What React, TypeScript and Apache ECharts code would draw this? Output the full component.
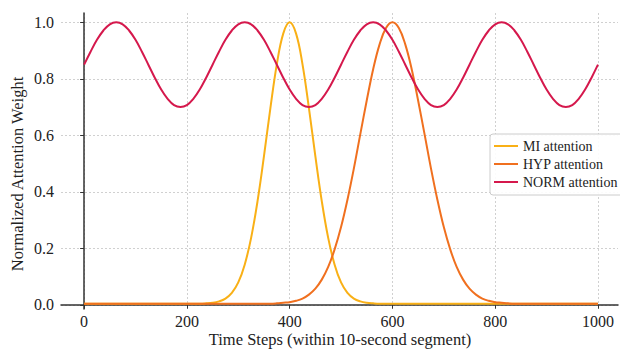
import React, { useEffect, useRef } from "react";
import * as echarts from "echarts";

// Sampling grid of the time axis (every 12.5 steps)
const timeSteps = [
  0, 12.5, 25, 37.5, 50, 62.5, 75, 87.5, 100, 112.5, 125, 137.5, 150, 162.5, 175, 187.5, 200, 212.5, 225, 237.5,
  250, 262.5, 275, 287.5, 300, 312.5, 325, 337.5, 350, 362.5, 375, 387.5, 400, 412.5, 425, 437.5, 450, 462.5, 475, 487.5,
  500, 512.5, 525, 537.5, 550, 562.5, 575, 587.5, 600, 612.5, 625, 637.5, 650, 662.5, 675, 687.5, 700, 712.5, 725, 737.5,
  750, 762.5, 775, 787.5, 800, 812.5, 825, 837.5, 850, 862.5, 875, 887.5, 900, 912.5, 925, 937.5, 950, 962.5, 975, 987.5,
  1000,
];

const miValues = [
  0.004, 0.004, 0.004, 0.004, 0.004, 0.004, 0.004, 0.004, 0.004, 0.004, 0.004, 0.004, 0.004, 0.004, 0.004, 0.004, 0.004, 0.004, 0.004,
  0.005, 0.007, 0.012, 0.022, 0.042, 0.079, 0.142, 0.237, 0.367, 0.526, 0.696, 0.851, 0.96,
  1.0,
  0.96, 0.851, 0.696, 0.526, 0.367, 0.237, 0.142, 0.079, 0.042, 0.022, 0.012, 0.007, 0.005,
  0.004, 0.004, 0.004, 0.004, 0.004, 0.004, 0.004, 0.004, 0.004, 0.004, 0.004, 0.004, 0.004, 0.004, 0.004, 0.004, 0.004, 0.004,
  0.004, 0.004, 0.004, 0.004, 0.004, 0.004, 0.004, 0.004, 0.004, 0.004, 0.004, 0.004, 0.004, 0.004, 0.004, 0.004, 0.004,
];

const hypValues = [
  0.004, 0.004, 0.004, 0.004, 0.004, 0.004, 0.004, 0.004, 0.004, 0.004, 0.004, 0.004, 0.004, 0.004, 0.004,
  0.004, 0.004, 0.004, 0.004, 0.004, 0.004, 0.004, 0.004, 0.004, 0.004, 0.004, 0.004, 0.004, 0.004, 0.004,
  0.005, 0.007, 0.009, 0.014, 0.022, 0.036, 0.057, 0.089, 0.134, 0.196, 0.275, 0.372, 0.483, 0.604, 0.723, 0.834, 0.922, 0.98,
  1.0,
  0.98, 0.922, 0.834, 0.723, 0.604, 0.483, 0.372, 0.275, 0.196, 0.134, 0.089, 0.057, 0.036, 0.022, 0.014, 0.009, 0.007, 0.005,
  0.004, 0.004, 0.004, 0.004, 0.004, 0.004, 0.004, 0.004, 0.004, 0.004, 0.004, 0.004, 0.004, 0.004,
];

const normValues = [
  0.85, 0.896, 0.938, 0.971, 0.993, 1.0, 0.993, 0.971, 0.938, 0.896, 0.85, 0.804, 0.762, 0.729, 0.707, 0.7, 0.707, 0.729, 0.762, 0.804,
  0.85, 0.896, 0.938, 0.971, 0.993, 1.0, 0.993, 0.971, 0.938, 0.896, 0.85, 0.804, 0.762, 0.729, 0.707, 0.7, 0.707, 0.729, 0.762, 0.804,
  0.85, 0.896, 0.938, 0.971, 0.993, 1.0, 0.993, 0.971, 0.938, 0.896, 0.85, 0.804, 0.762, 0.729, 0.707, 0.7, 0.707, 0.729, 0.762, 0.804,
  0.85, 0.896, 0.938, 0.971, 0.993, 1.0, 0.993, 0.971, 0.938, 0.896, 0.85, 0.804, 0.762, 0.729, 0.707, 0.7, 0.707, 0.729, 0.762, 0.804,
  0.85,
];

const seriesNames = ["MI attention", "HYP attention", "NORM attention"];
const seriesColors = ["#F9B016", "#F0701F", "#D5184C"];
const xTicks = [0, 200, 400, 600, 800, 1000];
const yTicks = [0, 0.2, 0.4, 0.6, 0.8, 1.0];
const xTickLabels = ["0", "200", "400", "600", "800", "1000"];
const yTickLabels = ["0.0", "0.2", "0.4", "0.6", "0.8", "1.0"];
const xTitle = "Time Steps (within 10-second segment)";
const yTitle = "Normalized Attention Weight";

const X_MIN = -45;
const X_MAX = 1039;
const Y_MIN = -0.015;
const Y_MAX = 1.033;

const FONT = "Liberation Serif";

export default function App() {
  const ref = useRef<HTMLDivElement>(null);
  useEffect(() => {
    if (!ref.current) return;
    const chart = echarts.init(ref.current, null, { renderer: "svg" });
    const allValues = [miValues, hypValues, normValues];
    const series = allValues.map((vals, k) => ({
      name: seriesNames[k],
      type: "line",
      data: timeSteps.map((t, i) => [t, vals[i]]),
      symbol: "none",
      smooth: 0.4,
      lineStyle: { color: seriesColors[k], width: 2 },
      itemStyle: { color: seriesColors[k] },
      z: 2 + k,
    }));
    chart.setOption({
      animation: false,
      backgroundColor: "#ffffff",
      textStyle: { fontFamily: FONT },
      grid: { left: 61, right: 2, top: 13, bottom: 40, containLabel: false },
      xAxis: {
        type: "value",
        min: X_MIN,
        max: X_MAX,
        axisLine: { show: true, lineStyle: { color: "#333", width: 1.5 } },
        axisTick: { show: true, inside: false, length: 4, customValues: xTicks, lineStyle: { color: "#333", width: 1 } },
        axisLabel: { show: false },
        splitLine: { show: true, customValues: xTicks, lineStyle: { color: "#c4c4c4", width: 0.8, type: [2, 2] } },
      },
      yAxis: {
        type: "value",
        min: Y_MIN,
        max: Y_MAX,
        axisLine: { show: true, lineStyle: { color: "#333", width: 1.5 } },
        axisTick: { show: true, inside: false, length: 4, customValues: yTicks, lineStyle: { color: "#333", width: 1 } },
        axisLabel: { show: false },
        splitLine: { show: true, customValues: yTicks, lineStyle: { color: "#c4c4c4", width: 0.8, type: [2, 2] } },
      },
      legend: {
        data: seriesNames.map((n) => ({ name: n, icon: "rect" })),
        orient: "vertical",
        left: 490,
        top: 134,
        padding: [5, 6, 6, 4],
        itemGap: 4,
        itemWidth: 24,
        itemHeight: 2,
        backgroundColor: "rgba(255,255,255,0.9)",
        borderColor: "#cccccc",
        borderWidth: 1,
        borderRadius: 3,
        textStyle: { fontSize: 14, fontFamily: FONT, color: "#222", lineHeight: 14 },
      },
      series,
    });

    // Tick labels placed at the positions given by the chart's own scales
    const labelStyle = { fontSize: 16, fontFamily: FONT, fill: "#222" };
    const tickTexts: any[] = [];
    xTicks.forEach((v, i) => {
      const p = chart.convertToPixel({ gridIndex: 0 }, [v, Y_MIN]) as number[];
      tickTexts.push({
        type: "text",
        x: p[0],
        y: p[1] + 4.5,
        style: { ...labelStyle, text: xTickLabels[i], textAlign: "center", textVerticalAlign: "top" },
      });
    });
    yTicks.forEach((v, i) => {
      const p = chart.convertToPixel({ gridIndex: 0 }, [X_MIN, v]) as number[];
      tickTexts.push({
        type: "text",
        x: p[0] - 7,
        y: p[1],
        style: { ...labelStyle, text: yTickLabels[i], textAlign: "right", textVerticalAlign: "middle" },
      });
    });

    chart.setOption({
      graphic: [
        ...tickTexts,
        {
          type: "text",
          x: 340,
          y: 339,
          style: {
            text: xTitle,
            fontSize: 16.5,
            fontFamily: FONT,
            fill: "#222",
            textAlign: "center",
            textVerticalAlign: "middle",
          },
        },
        {
          type: "text",
          x: 17,
          y: 174,
          rotation: Math.PI / 2,
          style: {
            text: yTitle,
            fontSize: 16.5,
            fontFamily: FONT,
            fill: "#222",
            textAlign: "center",
            textVerticalAlign: "middle",
          },
        },
      ],
    });
    return () => chart.dispose();
  }, []);
  return (
    <div
      ref={ref}
      style={{ position: "absolute", left: 0, top: 0, width: 620, height: 349 }}
    />
  );
}
